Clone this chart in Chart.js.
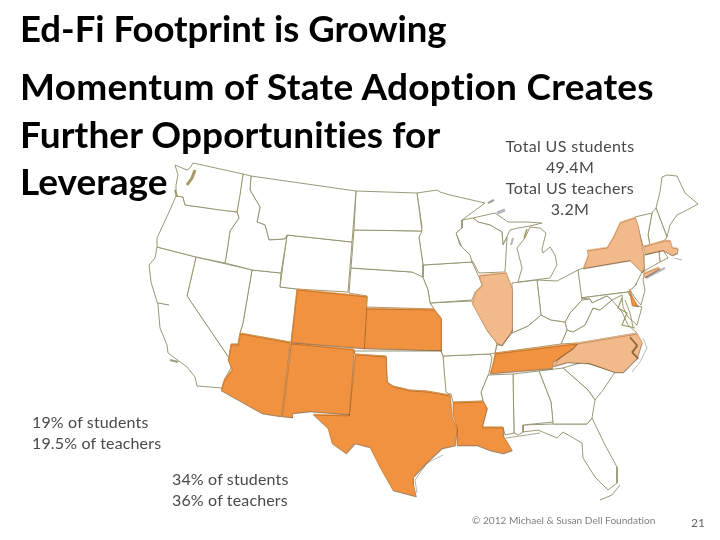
<!DOCTYPE html>
<html><head><meta charset="utf-8">
<style>
html,body{margin:0;padding:0;background:#fff;width:720px;height:540px;overflow:hidden}
#c{position:absolute;left:0;top:0}
.t{position:absolute;white-space:nowrap;font-family:Lato,sans-serif;line-height:1;font-variant-ligatures:none}
.h{font-weight:700;color:#000;left:20px;font-size:37px;letter-spacing:.2px}
.n{color:#4a4a4a;font-size:16px;letter-spacing:.15px}
.m{width:180px;text-align:center;left:480px;letter-spacing:.35px}
</style>
<script src="https://cdn.jsdelivr.net/npm/chart.js@4"></script>
</head><body>
<canvas id="c" width="720" height="540"></canvas>
<div class="t h" style="top:10px;font-size:36.5px;letter-spacing:0">Ed-Fi Footprint is Growing</div>
<div class="t h" style="top:67px;letter-spacing:.26px">Momentum of State Adoption Creates</div>
<div class="t h" style="top:115px;letter-spacing:.08px">Further Opportunities for</div>
<div class="t h" style="top:162px;letter-spacing:0">Leverage</div>
<div class="t n m" style="top:138px">Total US students</div>
<div class="t n m" style="top:159px">49.4M</div>
<div class="t n m" style="top:180px">Total US teachers</div>
<div class="t n m" style="top:201px">3.2M</div>
<div class="t n" style="left:32px;top:414px">19% of students</div>
<div class="t n" style="left:32px;top:435px">19.5% of teachers</div>
<div class="t n" style="left:172px;top:471px">34% of students</div>
<div class="t n" style="left:172px;top:492px">36% of teachers</div>
<div class="t" style="left:472px;top:515px;font-size:10.1px;color:#808080">© 2012 Michael &amp; Susan Dell Foundation</div>
<div class="t" style="left:691px;top:517px;font-size:12px;color:#666">21</div>
<script>
// State outlines in map units (x east, y south)
const WA=[[175,165],[187,170],[190,168],[193,163],[243,174],[240,195],[237,212],[220,210],[200,207],[185,205],[183,197],[176,196],[176,185],[178,175]];
const OR=[[176,196],[183,197],[185,205],[200,207],[222,210],[237,212],[239,218],[230,231],[228,245],[225,263],[196,257],[157,247],[157,238],[163,225],[170,210]];
const CA=[[157,247],[196,257],[187,296],[229,358],[231,368],[225,378],[222,388],[197,386],[195,377],[187,367],[168,353],[167,345],[160,328],[158,305],[151,282],[149,265],[155,258]];
const NV=[[196,257],[252,270],[243,323],[240,333],[238,344],[231,344],[229,358],[187,296]];
const ID=[[243,174],[251,176],[250,190],[260,207],[257,222],[265,225],[269,240],[285,239],[287,236],[281,273],[252,270],[225,263],[228,245],[230,231],[239,218],[237,212]];
const MT=[[251,176],[356,191],[352,242],[287,235],[285,239],[269,240],[265,225],[257,222],[260,207],[250,190]];
const WY=[[287,235],[352,242],[348,292],[297,289],[280,287]];
const UT=[[252,270],[281,273],[280,287],[297,289],[291,342],[240,333],[243,323]];
const ND=[[356,191],[417,193],[422,231],[354,230]];
const SD=[[354,230],[422,231],[419,237],[423,265],[423,277],[412,272],[351,268]];
const NE=[[351,268],[412,272],[422,275],[428,290],[430,303],[434,309],[365,307],[367,296],[349,293]];
const MN=[[417,193],[437,190],[440,192],[450,195],[485,203],[462,220],[462,228],[456,233],[460,245],[470,255],[472,262],[423,265],[419,237],[422,227]];
const IA=[[423,265],[472,262],[479,277],[482,285],[475,292],[472,300],[430,303],[428,290],[422,275]];
const MO=[[430,303],[472,301],[478,312],[487,330],[497,343],[495,353],[490,354],[443,356],[441,350],[441,318],[437,313],[434,309]];
const OK=[[354,351],[441,351],[443,356],[446,392],[450,395],[427,391],[410,390],[393,386],[387,382],[386,356],[355,354]];
const AR=[[443,356],[490,354],[492,358],[489,373],[481,392],[483,401],[453,402],[451,394],[445,393]];
const MS=[[488,375],[513,374],[514,433],[505,435],[503,427],[482,427],[487,408],[483,401],[481,392]];
const AL=[[513,374],[539,371],[551,402],[553,422],[523,425],[523,432],[518,435],[514,433]];
const GA=[[539,371],[563,368],[588,390],[595,400],[592,418],[587,424],[553,424],[551,402]];
const SC=[[563,368],[583,362],[615,372],[603,390],[595,400],[588,390]];
const FL=[[523,425],[553,424],[587,424],[592,418],[605,445],[617,467],[617,483],[608,490],[595,477],[583,458],[582,443],[563,432],[557,438],[538,430],[523,432]];
const WI=[[462,220],[473,218],[478,222],[490,225],[502,232],[503,245],[507,237],[505,272],[479,273],[473,262],[463,250],[456,233],[462,228]];
const MI_L=[[518,282],[550,278],[557,265],[555,255],[550,247],[543,253],[542,249],[546,233],[540,228],[530,227],[525,238],[517,248],[522,268]];
const MI_U=[[473,218],[495,213],[508,222],[527,222],[542,223],[530,226],[518,228],[510,230],[503,245],[502,232],[490,225],[478,222]];
const IN=[[512,283],[537,280],[541,315],[528,326],[512,333],[512,288]];
const OH=[[537,280],[557,281],[578,270],[582,300],[570,313],[565,322],[551,320],[541,315]];
const KY=[[512,333],[528,326],[541,315],[551,320],[565,322],[567,330],[561,344],[495,353],[497,345],[502,345]];
const WV=[[582,300],[590,299],[592,303],[607,296],[612,300],[600,310],[593,308],[585,325],[573,332],[567,330],[565,322],[570,313]];
const VA=[[561,344],[567,330],[573,332],[585,325],[593,308],[600,310],[612,300],[622,312],[628,325],[637,333],[577,343]];
const MD=[[580,298],[628,292],[635,305],[642,307],[637,325],[628,317],[623,307],[622,295],[612,300],[607,296],[592,303],[590,299]];
const PA=[[578,270],[583,268],[630,260],[642,272],[635,286],[628,292],[580,298]];
const NJ=[[635,270],[645,272],[643,280],[645,290],[641,305],[635,298],[630,290],[637,284],[633,278]];
const VT=[[635,217],[652,213],[648,235],[650,245],[643,246]];
const NH=[[652,213],[656,208],[667,237],[665,240],[650,245],[648,235]];
const ME=[[656,208],[660,192],[662,177],[667,175],[677,176],[685,193],[698,204],[687,210],[677,215],[670,225],[667,237]];
const CT=[[644,255],[659,251],[660,262],[644,271]];
const RI=[[659,251],[663,250],[668,258],[660,262]];
const LSI=[[643,273],[658,267],[660,268],[645,277]];
const CO=[[297,289],[367,296],[364,348],[291,342]];
const KS=[[365,308],[434,309],[437,313],[441,318],[441,350],[364,348]];
const AZ=[[240,333],[290,342],[281,416],[262,413],[221,390],[224,380],[232,369],[228,360],[231,344],[238,344]];
const NM=[[291,343],[354,349],[349,414],[310,411],[292,413],[292,417],[282,416]];
const TX=[[355,354],[386,356],[387,382],[393,386],[410,390],[427,391],[450,395],[452,417],[457,428],[455,445],[442,448],[427,462],[413,477],[413,483],[416,496],[393,490],[380,467],[370,447],[355,443],[346,453],[332,443],[328,428],[313,414],[349,415]];
const LA=[[453,402],[483,401],[487,408],[482,427],[503,427],[503,435],[512,450],[503,453],[490,450],[477,445],[457,445],[457,427],[453,415]];
const TN=[[495,353],[577,343],[573,348],[553,362],[552,368],[490,373],[493,363]];
const NC=[[577,343],[637,333],[642,342],[637,358],[623,372],[615,372],[590,363],[567,362],[553,366],[563,352]];
const NY=[[583,268],[588,255],[587,250],[607,247],[613,237],[620,222],[635,217],[638,225],[643,252],[644,268],[642,272],[630,260]];
const MA=[[643,246],[665,240],[670,240],[672,247],[678,248],[677,253],[672,255],[663,250],[645,254]];
const IL=[[479,275],[506,272],[512,288],[512,330],[502,345],[497,343],[487,330],[472,303],[475,292],[482,285]];
const DE=[[629,289],[633,298],[638,306],[632,305]];
// Detail strokes: bays, islands, barrier coast
const PUGET=[[195,170],[192,178],[187,185]];
const COLUMBIA=[[175,190],[177,196]];
const BAY_W=[[622,298],[618,308],[627,313],[622,325],[635,328]];
const BAY_E=[[625,300],[630,313],[633,327]];
const LSI_GREY=[[646,278],[665,268]];
const BANKS=[[643,338],[647,348],[640,362],[632,372]];
const PAMLICO=[[630,337],[637,345],[632,352],[638,358]];
const KEYS=[[600,500],[612,495],[620,485]];
const PADRE=[[417,493],[415,480],[427,463],[443,455]];
const GULF=[[506,438],[520,436],[540,433]];
const SUPERIOR=[[488,203],[494,200]];
const ISLE=[[497,213],[505,210]];
const MICH=[[511,245],[513,238]];
const MI_NORTH=[[524,238],[527,229]];
const SFBAY=[[158,303],[169,305]];
const CHANNEL=[[170,360],[178,362]];
const CAPE=[[674,258],[682,260]];

const orange='#F0923F', light='#F2B98A', line='#8F8D68', white='#FFFFFF';
const strong=[CO,KS,AZ,NM,TX,LA,TN,DE];
const pale=[NC,NY,MA,IL,LSI];
const plain=[WA,OR,CA,NV,ID,MT,WY,UT,ND,SD,NE,MN,IA,MO,OK,AR,MS,AL,GA,SC,FL,WI,MI_L,MI_U,IN,OH,KY,WV,VA,MD,PA,NJ,VT,NH,ME,CT,RI];
const topDetails=[[PAMLICO,'#8A6A3A',1.2]];
const details=[[PUGET,'#A39A62',3],[COLUMBIA,'#A39A62',2],[BAY_W,'#A39A62',1.2],[BAY_E,'#A39A62',1],[LSI_GREY,'#B9BDC2',2.5],[BANKS,'#BDBDB0',1],[KEYS,'#9A9A78',1],[PADRE,'#B4B8B0',1],[GULF,'#A5A588',1],[SUPERIOR,'#A0A090',2],[ISLE,'#B4B8BC',3],[MICH,'#B4B8BC',2],[MI_NORTH,'#A39A62',1.5],[SFBAY,line,1],[CHANNEL,'#9A9A78',2],[CAPE,'#B4B4A4',1]];
const pts=a=>a.map(p=>({x:p[0],y:p[1]}));
const poly=(a,fill,border,w)=>({data:pts(a.concat([a[0]])),showLine:true,fill:'shape',backgroundColor:fill,borderColor:border,borderWidth:w,pointRadius:0,tension:0});
const stroke=(a,c,w)=>({data:pts(a),showLine:true,fill:false,borderColor:c,borderWidth:w,pointRadius:0,tension:0});
// Chart.js paints the last dataset first, so the coloured states come early in the list
const ds=[...topDetails.map(d=>stroke(...d)),...strong.map(a=>poly(a,orange,orange,0.5)),...pale.map(a=>poly(a,light,light,0.5)),...details.map(d=>stroke(...d)),...plain.map(a=>poly(a,white,line,0.9))];
const lastShadowed=topDetails.length+strong.length+pale.length;
const shadow={id:'shadow',
 afterDatasetDraw(ch,args){if(args.index===lastShadowed){const c=ch.ctx;c.shadowColor='rgba(90,50,10,.6)';c.shadowOffsetX=0.4;c.shadowOffsetY=1;c.shadowBlur=0.5;}},
 afterDatasetsDraw(ch){const c=ch.ctx;c.shadowColor='transparent';c.shadowOffsetX=0;c.shadowOffsetY=0;c.shadowBlur=0;}};
new Chart(document.getElementById('c'),{type:'scatter',data:{datasets:ds},plugins:[shadow],
 options:{responsive:false,animation:false,devicePixelRatio:1,layout:{padding:0},
  plugins:{legend:{display:false},tooltip:{enabled:false},title:{display:false}},
  scales:{x:{type:'linear',min:0,max:720,display:false},y:{type:'linear',min:0,max:540,reverse:true,display:false}}}});
</script>
</body></html>
